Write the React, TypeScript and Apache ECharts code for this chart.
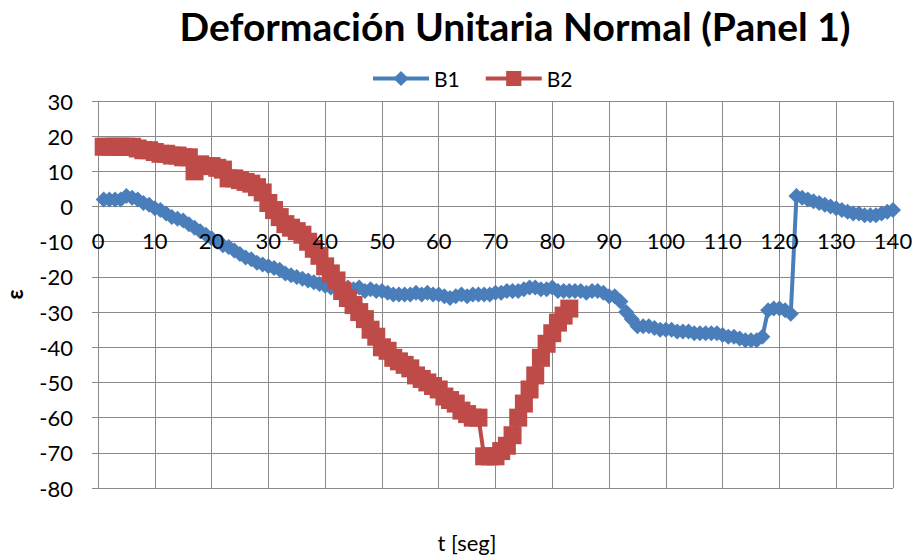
import React, { useEffect, useRef } from "react";
import * as echarts from "echarts";

const titleText = "Deformación Unitaria Normal (Panel 1)";
const xName = "t [seg]";
const yName = "ε";

// B1: t = 1..140
const b1Time: number[] = Array.from({ length: 140 }, (_, i) => i + 1);
const b1Values: number[] = [
  2, 2, 2, 2, 3, 2.5, 2, 1, 0.5, -0.5,
  -1, -2, -3, -3.5, -4, -5, -6, -7, -8, -9,
  -10, -11, -11.5, -12.5, -13.5, -14.5, -15, -16, -16.5, -17,
  -17.5, -18, -19, -19.5, -20, -20.5, -21, -21.5, -22, -22.5,
  -23, -23, -23.5, -23, -23.5, -23, -24, -23.5, -24, -24,
  -24.5, -25, -25, -25, -25, -24.5, -25, -24.5, -25, -25,
  -25.5, -26, -25.5, -25, -25.5, -25, -25, -25, -25, -24.5,
  -24.5, -24, -24, -24, -23.5, -23, -23, -23.5, -23.5, -23,
  -24, -24, -24, -24, -24, -24.5, -24, -24, -24.5, -25.5,
  -25.5, -27, -30, -32, -34, -34, -34, -34.5, -35, -35,
  -35, -35.5, -35.5, -35.5, -36, -36, -36, -36, -36, -36.5,
  -37, -37, -37.5, -38, -38, -38, -37, -29.5, -29, -29,
  -29.5, -30.5, 3, 2.5, 2, 1.5, 1, 0.5, 0, -0.5,
  -1, -1.5, -2, -2, -2.5, -2.5, -2.5, -2, -1.5, -1,
];

// B2: t = 1..83
const b2Time: number[] = Array.from({ length: 83 }, (_, i) => i + 1);
const b2Values: number[] = [
  17, 17, 17, 17, 17, 17, 16.5, 16, 16, 15.5,
  15, 15, 14.5, 14.5, 14, 14, 10, 12, 11.5, 11.5,
  11, 10.5, 8, 8, 7.5, 7, 6.5, 5.5, 4, 1,
  -1, -3, -5, -6, -7, -8, -10, -12, -14, -17,
  -19, -21, -24, -26, -28, -30, -32, -35, -37, -40,
  -41, -43, -44, -45, -46, -48, -49, -50, -51, -52,
  -54, -55, -56, -58, -59, -60, -60, -71, -71, -71,
  -69.5, -68, -65, -60, -56, -52, -48, -43, -39, -36,
  -33, -31, -29,
];

const xMin = 0;
const xMax = 140;
const xStep = 10;
const yMin = -80;
const yMax = 30;
const yStep = 10;

const FONT = "Lato, 'Open Sans', sans-serif";

export default function App() {
  const ref = useRef<HTMLDivElement>(null);
  useEffect(() => {
    if (!ref.current) return;
    const chart = echarts.init(ref.current, undefined, { renderer: "svg" });
    const gridColor = "#8a8a8a";
    const gridTop = 101;
    const gridBottom = 67;
    const plotH = 555 - gridTop - gridBottom;
    // place the horizontal axis on the zero line
    const zeroOffset = -((0 - yMin) / (yMax - yMin)) * plotH;
    chart.setOption({
      animation: false,
      backgroundColor: "#ffffff",
      textStyle: { fontFamily: FONT },
      title: {
        text: titleText,
        left: 510,
        textAlign: "center",
        top: 1,
        textStyle: { fontFamily: FONT, fontWeight: "bold", fontSize: 39, color: "#000" },
      },
      legend: {
        data: ["B1", "B2"],
        left: 366,
        top: 63,
        itemWidth: 56,
        itemHeight: 19,
        itemGap: 24,
        lineStyle: { width: 4 },
        textStyle: { fontFamily: FONT, fontSize: 21, color: "#000" },
      },
      grid: { left: 98, right: 26, top: gridTop, bottom: gridBottom, outerBoundsMode: "none", containLabel: false },
      xAxis: [
        {
          type: "value",
          min: xMin,
          max: xMax,
          interval: xStep,
          position: "bottom",
          offset: zeroOffset,
          axisLine: { onZero: false, lineStyle: { color: gridColor, width: 1 } },
          axisTick: { show: true, length: 5, lineStyle: { color: gridColor } },
          axisLabel: { show: false },
          splitLine: { show: true, lineStyle: { color: gridColor, width: 1 } },
        },
        {
          type: "value",
          min: xMin,
          max: xMax,
          interval: xStep,
          position: "bottom",
          offset: zeroOffset,
          z: 10,
          axisLine: { show: false, onZero: false },
          axisTick: { show: false },
          axisLabel: { margin: 23, fontFamily: FONT, fontSize: 22, color: "#000" },
          splitLine: { show: false },
        },
      ],
      yAxis: {
        type: "value",
        min: yMin,
        max: yMax,
        interval: yStep,
        name: yName,
        nameLocation: "middle",
        nameGap: 73,
        nameTextStyle: { fontFamily: FONT, fontSize: 22, fontWeight: "bold", color: "#000" },
        axisLine: { show: true, onZero: false, lineStyle: { color: gridColor, width: 1 } },
        axisTick: { show: true, length: 6, lineStyle: { color: gridColor } },
        axisLabel: { margin: 25, fontFamily: FONT, fontSize: 22, color: "#000" },
        splitLine: { show: true, lineStyle: { color: gridColor, width: 1 } },
      },
      graphic: [
        {
          type: "text",
          x: 467,
          y: 542,
          style: {
            text: xName,
            font: `22px ${FONT}`,
            fill: "#000",
            align: "center",
            verticalAlign: "middle",
          },
        },
      ],
      series: [
        {
          name: "B1",
          type: "line",
          xAxisIndex: 0,
          data: b1Time.map((t, i) => [t, b1Values[i]]),
          symbol: "diamond",
          symbolSize: 16,
          showAllSymbol: true,
          lineStyle: { color: "#4a7ebb", width: 4 },
          itemStyle: { color: "#4a7ebb" },
        },
        {
          name: "B2",
          type: "line",
          xAxisIndex: 0,
          data: b2Time.map((t, i) => [t, b2Values[i]]),
          symbol: "rect",
          symbolSize: 18,
          showAllSymbol: true,
          lineStyle: { color: "#be4b48", width: 4 },
          itemStyle: { color: "#be4b48" },
        },
      ],
    });
    return () => chart.dispose();
  }, []);
  return (
    <div
      ref={ref}
      style={{ position: "fixed", left: 0, top: 0, width: 919, height: 555 }}
    />
  );
}
